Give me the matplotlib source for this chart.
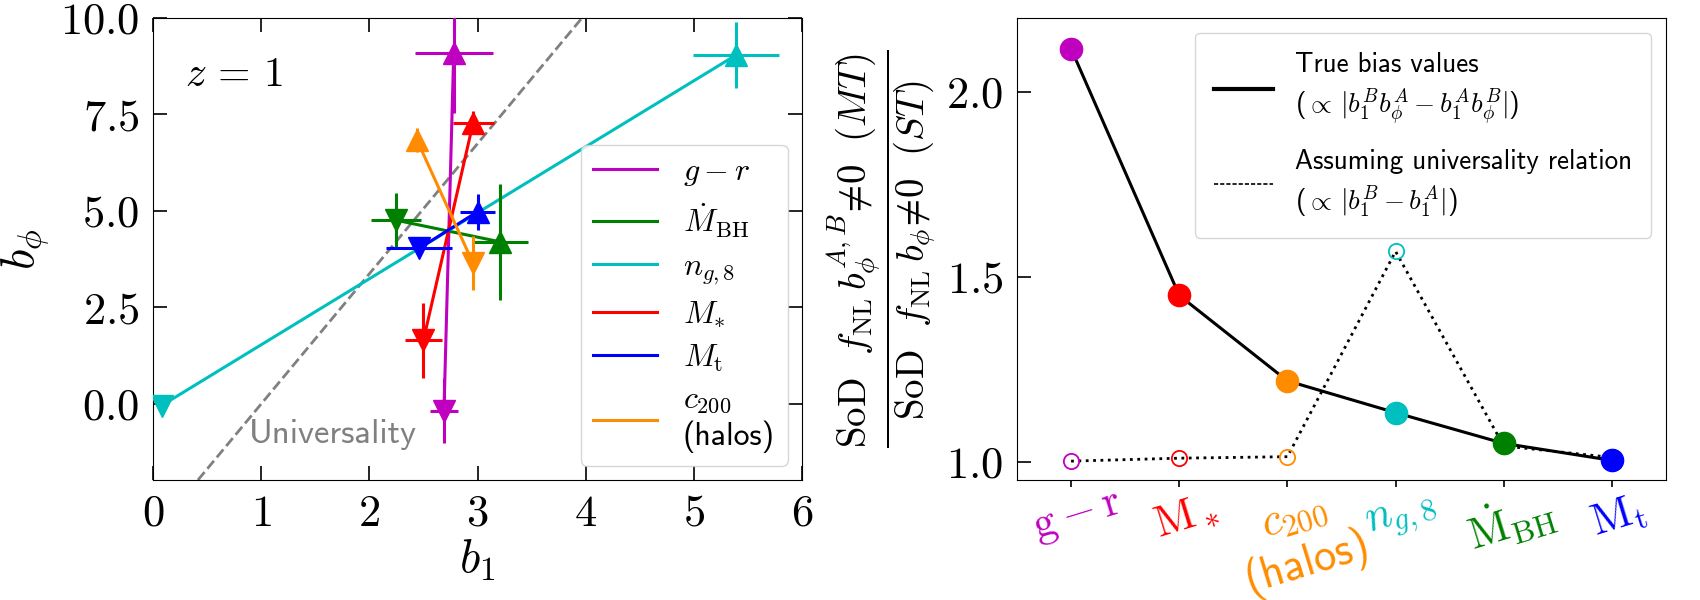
import numpy as np
import matplotlib
matplotlib.use("Agg")
import matplotlib.pyplot as plt
from matplotlib.lines import Line2D
from matplotlib.ticker import FuncFormatter, MultipleLocator

plt.rcParams['mathtext.fontset'] = 'cm'
plt.rcParams['font.family'] = ['cmss10', 'DejaVu Sans']
plt.rcParams['axes.unicode_minus'] = False

# ---------------- data: left panel ----------------
tracer_labels = [r'$g-r$', r'$\dot{M}_{\rm BH}$', r'$n_{g,8}$', r'$M_{*}$',
                 r'$M_{\rm t}$', '$c_{200}$\n(halos)']
tracer_colors = ['m', 'g', 'c', 'r', 'b', 'darkorange']
# sample A (up triangles)
b1_A = [2.78, 3.21, 5.39, 2.96, 3.00, 2.44]
bphi_A = [9.09, 4.20, 9.04, 7.29, 4.98, 6.84]
b1err_A = [0.36, 0.26, 0.40, 0.19, 0.165, 0.04]
bphierr_A = [1.56, 1.50, 0.86, 0.30, 0.46, 0.32]
# sample B (down triangles)
b1_B = [2.69, 2.25, 0.08, 2.50, 2.46, 2.96]
bphi_B = [-0.17, 4.76, -0.04, 1.65, 4.03, 3.64]
b1err_B = [0.13, 0.23, 0.03, 0.17, 0.305, 0.04]
bphierr_B = [0.83, 0.70, 0.15, 0.97, 0.20, 0.70]
delta_c = 1.686
p_univ = 1.0

# ---------------- data: right panel ----------------
cat_labels = [r'$\mathrm{g-r}$', r'$\mathrm{M}_*$', '$c_{200}$\n(halos)',
              r'$n_{g,8}$', r'$\dot{\mathrm{M}}_\mathrm{BH}$', r'$\mathrm{M}_\mathrm{t}$']
cat_colors = ['m', 'r', 'darkorange', 'c', 'g', 'b']
ratio_true = [2.117, 1.450, 1.219, 1.133, 1.050, 1.004]
ratio_univ = [1.002, 1.010, 1.014, 1.569, 1.043, 1.012]

fig = plt.figure(figsize=(17, 6), dpi=100)
axL = fig.add_axes([153/1700, 120/600, 649/1700, 462/600])
axR = fig.add_axes([1017/1700, 120/600, 649/1700, 462/600])

# ---------------- left panel ----------------
axL.axline((p_univ, 0.0), slope=2*delta_c, color='gray', ls='--', lw=2, zorder=1)
for i in range(len(tracer_labels)):
    c = tracer_colors[i]
    axL.plot([b1_A[i], b1_B[i]], [bphi_A[i], bphi_B[i]], '-', color=c, lw=2.2,
             label=tracer_labels[i], zorder=2)
    axL.errorbar([b1_A[i]], [bphi_A[i]], xerr=[b1err_A[i]], yerr=[bphierr_A[i]],
                 fmt='^', color=c, ms=16, elinewidth=2.2, capsize=0, zorder=3)
    axL.errorbar([b1_B[i]], [bphi_B[i]], xerr=[b1err_B[i]], yerr=[bphierr_B[i]],
                 fmt='v', color=c, ms=16, elinewidth=2.2, capsize=0, zorder=3)

axL.set_xlim(0, 6)
axL.set_ylim(-1.97, 10)
axL.xaxis.set_major_locator(MultipleLocator(1))
axL.yaxis.set_major_locator(MultipleLocator(2.5))
axL.xaxis.set_major_formatter(FuncFormatter(lambda v, p: f'${v:.0f}$'))
axL.yaxis.set_major_formatter(FuncFormatter(lambda v, p: f'${v:.1f}$'))
axL.tick_params(direction='in', top=True, right=True, length=10, width=1.2,
                labelsize=32, pad=10)
axL.set_xlabel(r'$b_1$', fontsize=34, labelpad=2)
axL.set_ylabel(r'$b_\phi$', fontsize=34, labelpad=6)
axL.text(0.3, 8.5, r'$z\,=\,1$', fontsize=30, va='center')
axL.text(0.89, -0.8, 'Universality', fontsize=25, color='gray', va='center')
axL.legend(loc='lower right', fontsize=23, handlelength=2.0, labelspacing=0.4,
           borderaxespad=0.45)

# ---------------- right panel ----------------
xpos = np.arange(len(cat_labels))
axR.plot(xpos, ratio_true, '-', color='k', lw=2.2, zorder=2)
axR.plot(xpos, ratio_univ, ':', color='k', lw=2.0, zorder=2)
for i in range(len(xpos)):
    axR.plot(xpos[i], ratio_univ[i], 'o', mfc='none', mec=cat_colors[i],
             ms=11, mew=1.3, zorder=3)
    axR.plot(xpos[i], ratio_true[i], 'o', color=cat_colors[i], ms=16, zorder=4)

axR.set_xlim(-0.5, 5.5)
axR.set_ylim(0.951, 2.2)
axR.set_yticks([1.0, 1.5, 2.0])
axR.yaxis.set_major_formatter(FuncFormatter(lambda v, p: f'${v:.1f}$'))
axR.set_xticks(xpos)
axR.set_xticklabels(cat_labels, rotation=17, ha='center', va='top',
                    rotation_mode='anchor', fontsize=32)
for lab, col in zip(axR.get_xticklabels(), cat_colors):
    lab.set_color(col)
    lab.set_linespacing(1.15)
axR.tick_params(axis='y', direction='in', length=10, width=1.2, labelsize=32, pad=10)
axR.tick_params(axis='x', direction='out', length=5, width=1.2, pad=7)
axR.set_ylabel(r'$\dfrac{\mathrm{SoD}\ \ f_{\rm NL}\, b_\phi^{A,B}\!\neq\! 0\ \ (MT)}'
               r'{\mathrm{SoD}\ \ f_{\rm NL}\, b_\phi\!\neq\! 0\ \ (ST)}$',
               fontsize=28, labelpad=6)
handles = [Line2D([], [], color='k', lw=3),
           Line2D([], [], color='k', lw=1.2, ls=(0, (2.5, 1.2)))]
labels = ['True bias values\n' r'(${\propto}\,|b_1^B b_\phi^A - b_1^A b_\phi^B|$)',
          'Assuming universality relation\n' r'(${\propto}\,|b_1^B - b_1^A|$)']
leg = axR.legend(handles, labels, loc='upper right', fontsize=19.5, handlelength=2.2,
                 handletextpad=0.8, labelspacing=0.85, borderaxespad=0.55,
                 borderpad=0.7)
for t in leg.get_texts():
    t.set_linespacing(1.35)

fig.savefig('out.png', dpi=100)
